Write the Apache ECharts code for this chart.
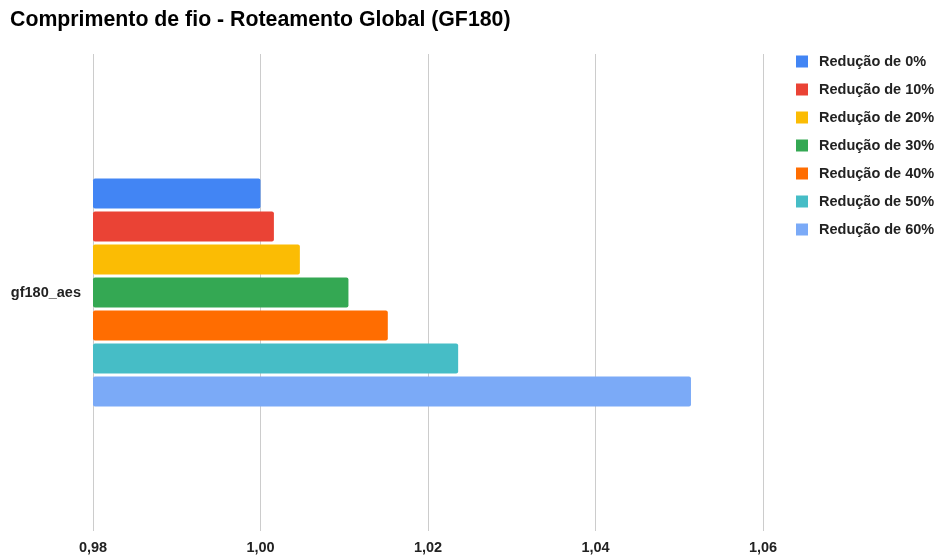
<!DOCTYPE html>
<html>
<head>
<meta charset="utf-8">
<script src="https://cdn.jsdelivr.net/npm/echarts@6/dist/echarts.min.js"></script>
<style>
  html, body { margin: 0; padding: 0; background: #fff; }
  #chart { width: 939px; height: 555px; }
</style>
</head>
<body>
<div id="chart"></div>
<script>
// Normalised global-routing wirelength per reduction level
const categories = ['gf180_aes'];
const seriesNames = ['Redução de 0%', 'Redução de 10%', 'Redução de 20%', 'Redução de 30%', 'Redução de 40%', 'Redução de 50%', 'Redução de 60%'];
const seriesValues = [1.0000, 1.0016, 1.0047, 1.0105, 1.0152, 1.0236, 1.0514];
const seriesColors = ['#4285F4', '#EA4335', '#FBBC04', '#34A853', '#FF6D01', '#46BDC6', '#7BAAF7'];
const xTicks = { min: 0.98, max: 1.06, interval: 0.02 };

const font = 'Liberation Sans, Arial, sans-serif';

const chart = echarts.init(document.getElementById('chart'), null, { renderer: 'canvas' });

const series = seriesNames.map((name, i) => ({
  name: name,
  type: 'bar',
  data: [seriesValues[i]],
  barWidth: 30,
  barGap: '10%',
  itemStyle: { color: seriesColors[i], borderRadius: 2 },
  emphasis: { disabled: true }
}));

chart.setOption({
  animation: false,
  backgroundColor: '#ffffff',
  title: {
    text: 'Comprimento de fio - Roteamento Global (GF180)',
    left: 5,
    top: 5,
    textStyle: { fontFamily: font, fontSize: 21.3, fontWeight: 'bold', color: '#000' }
  },
  legend: {
    orient: 'vertical',
    left: 791,
    top: 49,
    itemWidth: 12,
    itemHeight: 12,
    itemGap: 13,
    icon: 'rect',
    data: seriesNames,
    textStyle: { fontFamily: font, fontSize: 14.5, fontWeight: 'bold', color: '#222', padding: [0, 0, 0, 6] }
  },
  grid: { left: 93, right: 176, top: 54, bottom: 23, containLabel: false },
  xAxis: {
    type: 'value',
    min: xTicks.min,
    max: xTicks.max,
    interval: xTicks.interval,
    axisLine: { show: false },
    axisTick: { show: false },
    splitLine: { lineStyle: { color: '#cccccc', width: 1 } },
    axisLabel: {
      fontFamily: font, fontSize: 14.5, fontWeight: 'bold', color: '#222', margin: 9,
      formatter: v => v.toFixed(2).replace('.', ',')
    }
  },
  yAxis: {
    type: 'category',
    data: categories,
    inverse: true,
    axisLine: { show: false },
    axisTick: { show: false },
    axisLabel: { fontFamily: font, fontSize: 14.5, fontWeight: 'bold', color: '#222', margin: 12 }
  },
  series: series
});
</script>
</body>
</html>
